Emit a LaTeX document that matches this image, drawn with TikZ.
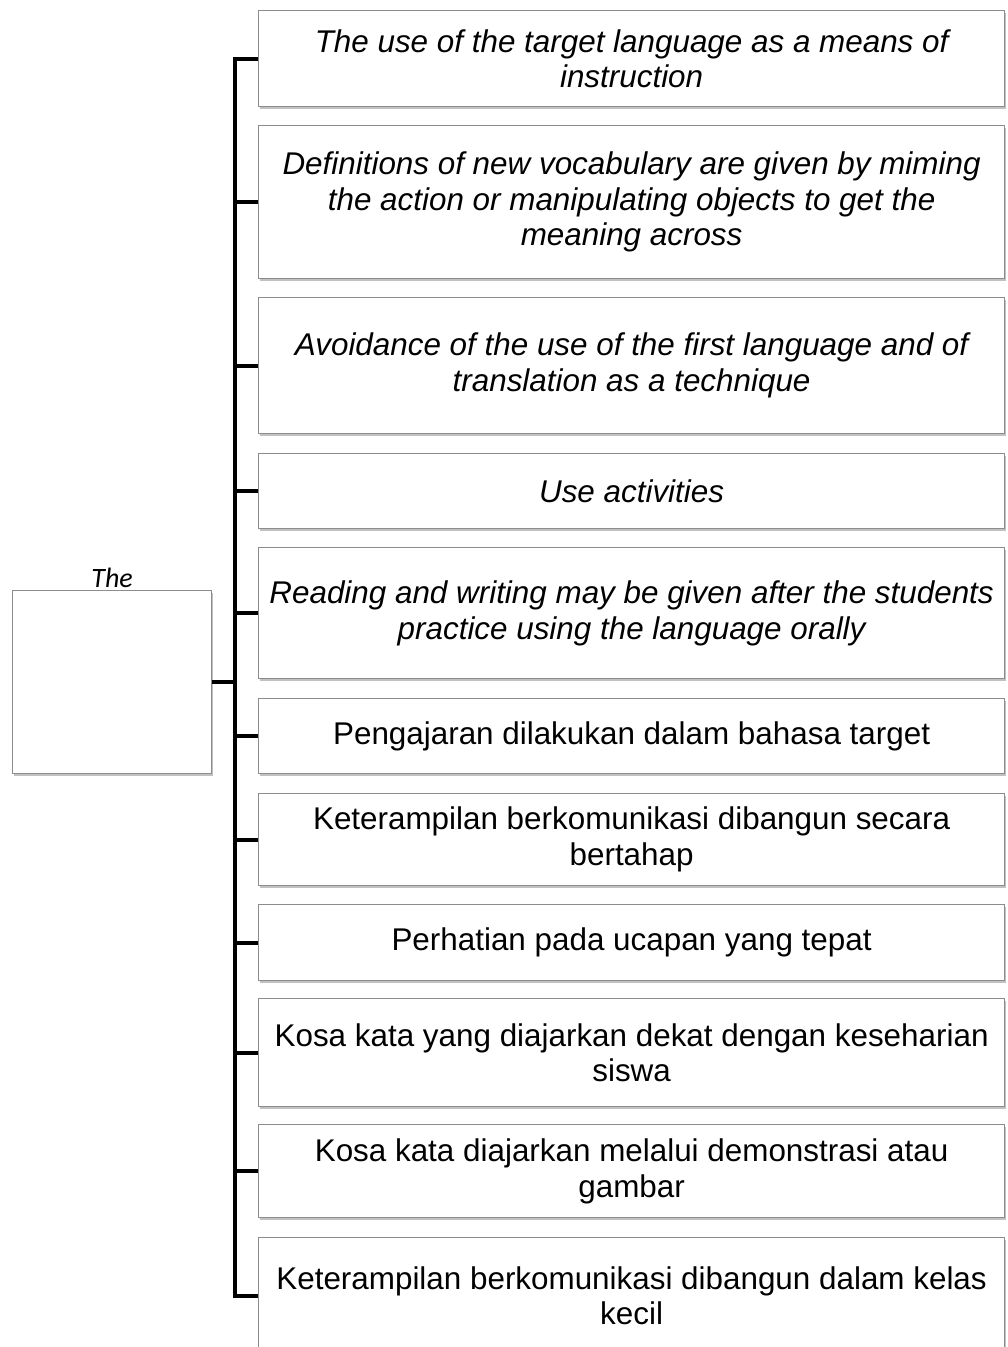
\documentclass[tikz,border=0pt]{standalone}
\usepackage{fontspec}
\setmainfont{Liberation Sans}
\newfontfamily\rootfont{Carlito}
\usetikzlibrary{shadows}
\definecolor{boxgrey}{RGB}{140,140,140}
\tikzset{
  item/.style={draw=boxgrey, fill=white, line width=0.6pt, anchor=north west,
    minimum width=373pt, inner sep=2pt, align=center,
    font=\fontsize{15.7}{17.8}\selectfont,
    drop shadow={shadow xshift=0.6pt, shadow yshift=-1.2pt, opacity=0.35, fill=black!70}},
  emph/.style={font=\fontsize{15.7}{17.8}\selectfont\itshape},
  link/.style={line width=2pt}
}
\begin{document}
\begin{tikzpicture}[x=0.5pt,y=-0.5pt]
      \useasboundingbox (0,0) rectangle (1007,1347);
      \node[item, minimum width=99.5pt, minimum height=91.5pt,
        label={[font=\rootfont\itshape\fontsize{14}{16}\selectfont, inner sep=1pt]north:The}] (0) at (12,590) {};
      \node[item, emph, minimum height=48pt] (1) at (258,10)
        {The use of the target language as a means of\\instruction};
      \node[item, emph, minimum height=76.5pt] (2) at (258,125)
        {Definitions of new vocabulary are given by miming\\the action or manipulating objects to get the\\meaning across};
      \node[item, emph, minimum height=68pt] (3) at (258,297)
        {Avoidance of the use of the first language and of\\translation as a technique};
      \node[item, emph, minimum height=37.5pt] (4) at (258,453)
        {Use activities};
      \node[item, emph, minimum height=65.5pt] (5) at (258,547)
        {Reading and writing may be given after the students\\practice using the language orally};
      \node[item, minimum height=37.5pt] (6) at (258,698)
        {Pengajaran dilakukan dalam bahasa target};
      \node[item, minimum height=46pt] (7) at (258,793)
        {Keterampilan berkomunikasi dibangun secara\\bertahap};
      \node[item, minimum height=38pt] (8) at (258,904)
        {Perhatian pada ucapan yang tepat};
      \node[item, minimum height=54pt] (9) at (258,998)
        {Kosa kata yang diajarkan dekat dengan keseharian\\siswa};
      \node[item, minimum height=46.5pt] (10) at (258,1124)
        {Kosa kata diajarkan melalui demonstrasi atau\\gambar};
      \node[item, minimum height=58pt] (11) at (258,1237)
        {Keterampilan berkomunikasi dibangun dalam kelas\\kecil};
      \coordinate (s) at (235,0);
      \begin{scope}[link]
        \draw (1.west) -- (1.west -| s) -- (11.west -| s) -- (11.west);
        \draw (0.east) -- (0.east -| s);
        \draw (2.west) -- (2.west -| s);
        \draw (3.west) -- (3.west -| s);
        \draw (4.west) -- (4.west -| s);
        \draw (5.west) -- (5.west -| s);
        \draw (6.west) -- (6.west -| s);
        \draw (7.west) -- (7.west -| s);
        \draw (8.west) -- (8.west -| s);
        \draw (9.west) -- (9.west -| s);
        \draw (10.west) -- (10.west -| s);
      \end{scope}
    \end{tikzpicture}
\end{document}
